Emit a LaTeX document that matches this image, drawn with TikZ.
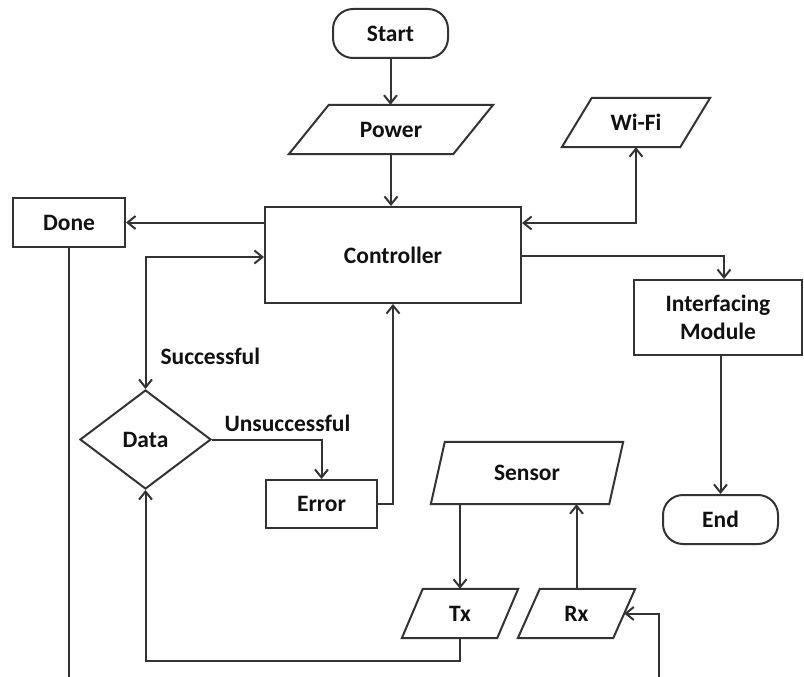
\documentclass[tikz,border=0pt]{standalone}
\usepackage{fontspec}
\setmainfont{Carlito}
\usetikzlibrary{arrows.meta,calc,shapes.geometric}

\definecolor{inkline}{HTML}{333333}
\definecolor{inktext}{HTML}{111111}

\tikzset{
  every node/.style={font=\fontsize{23.5}{28}\selectfont\bfseries, text=inktext},
  flow/.style={draw=inkline, line width=2pt, inner sep=0pt, align=center},
  box/.style={flow, rectangle},
  terminal/.style={flow, rectangle, rounded corners=20pt},
  decision/.style={flow, diamond},
  iobody/.style={rectangle, draw=none, inner sep=0pt, align=center},
  link/.style={draw=inkline, line width=2pt,
    arrows={-Straight Barb[length=8pt,width=13pt]}},
  twoway/.style={draw=inkline, line width=2pt,
    arrows={Straight Barb[length=8pt,width=13pt]-Straight Barb[length=8pt,width=13pt]}},
  plain/.style={draw=inkline, line width=2pt},
  iolabel/.style={anchor=west},
}

% parallelogram outline around a named input/output node, #2 = half slant
\newcommand\ioframe[2]{%
  \draw[draw=inkline, line width=2pt, line join=miter]
    ($(#1.south west)+(-#2,0)$) -- ($(#1.south east)+(-#2,0)$) --
    ($(#1.north east)+(#2,0)$) -- ($(#1.north west)+(#2,0)$) -- cycle;}

\begin{document}
\begin{tikzpicture}[x=1pt,y=-1pt]
  \useasboundingbox (0,0) rectangle (804,677);

  % terminals
  \node[terminal, minimum width=115pt, minimum height=49pt] (start) at (390.5,33.5) {Start};
  \node[terminal, minimum width=115pt, minimum height=49pt] (end) at (720.5,519.5) {End};

  % input / output blocks
  \node[iobody, minimum width=164pt, minimum height=49pt] (power) at (391,129.5) {Power};
  \node[iobody, minimum width=118pt, minimum height=49pt] (wifi) at (636,122.5) {Wi-Fi};
  \node[iobody, minimum width=178pt, minimum height=62pt] (sensor) at (527,473) {Sensor};
  \node[iobody, minimum width=95pt, minimum height=49pt] (tx) at (460,613.5) {Tx};
  \node[iobody, minimum width=95pt, minimum height=49pt] (rx) at (576.5,613.5) {Rx};
  \ioframe{power}{20}
  \ioframe{wifi}{15}
  \ioframe{sensor}{7}
  \ioframe{tx}{10.5}
  \ioframe{rx}{11}

  % process blocks
  \node[box, minimum width=256pt, minimum height=96pt] (ctrl) at (393,255) {Controller};
  \node[box, minimum width=112pt, minimum height=49pt] (done) at (69,222.5) {Done};
  \node[box, minimum width=168pt, minimum height=75pt] (inter) at (718,317.5) {Interfacing\\Module};
  \node[box, minimum width=111pt, minimum height=48pt] (error) at (321.5,504) {Error};
  \node[decision, minimum width=131pt, minimum height=99pt] (data) at (145.5,439.5) {Data};

  % branch labels
  \node[iolabel] (lblok) at (157,356) {Successful};
  \node[iolabel] (lblfail) at (221,423) {Unsuccessful};

  % loose ends running off the lower edge
  \coordinate (doneout) at (70,677);
  \coordinate (rxin) at (659,677);
  \coordinate (txlow) at (460,661);

  % connectors
  \draw[link] (start.south) -- (start.south |- power.north);
  \draw[link] (power.south) -- (power.south |- ctrl.north);
  \draw[link] (done.east -| ctrl.west) -- (done.east);
  \draw[twoway] (wifi.south) |- ([yshift=32pt]ctrl.east);
  \draw[link] ([yshift=-1pt]ctrl.east) -| ([xshift=6pt]inter.north);
  \draw[link] (end.north |- inter.south) -- (end.north);
  \draw[twoway] (data.north) |- ([yshift=-2pt]ctrl.west);
  \draw[link] (data.east) -| (error.north);
  \draw[link] (error.east) -| (ctrl.south);
  \draw[link] (tx.north |- sensor.south) -- (tx.north);
  \draw[link] (rx.north) -- (rx.north |- sensor.south);
  \draw[link] (tx.south) -- (txlow) -| (data.south);
  \draw[link] (rxin) |- (rx.east);
  \draw[plain] (done.south) -- (done.south |- doneout);
\end{tikzpicture}
\end{document}
